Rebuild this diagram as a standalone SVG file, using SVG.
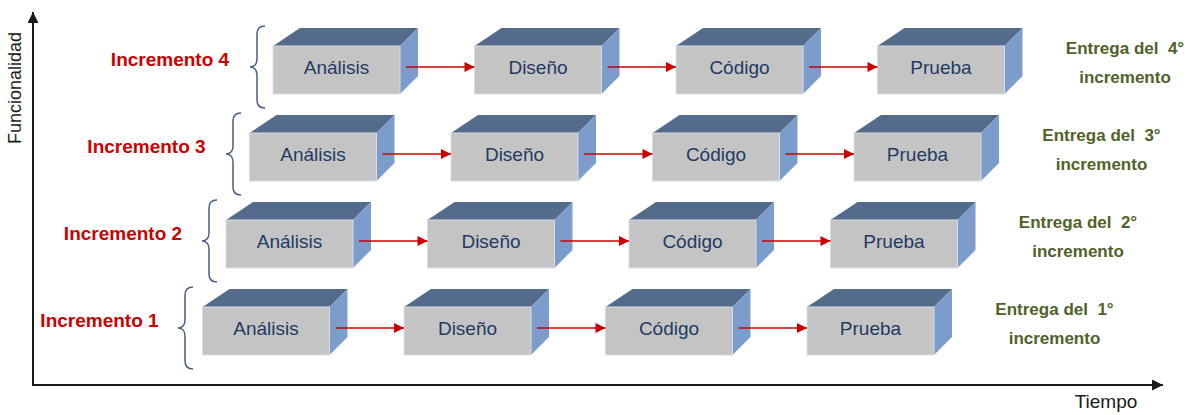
<svg xmlns="http://www.w3.org/2000/svg" width="1197" height="415" viewBox="0 0 1197 415">
<style>
.front{fill:#C4C4C4;stroke:#DADDE2;stroke-width:1}
.top{fill:#546B8C}
.side{fill:#7C9DCB}
.bl{font-family:"Liberation Sans",Arial,sans-serif;font-size:19px;fill:#1F3B63;text-anchor:middle}
.inc{font-family:"Liberation Sans",Arial,sans-serif;font-size:19px;font-weight:bold;fill:#CC0000;text-anchor:middle}
.ent{font-family:"Liberation Sans",Arial,sans-serif;font-size:17px;font-weight:bold;fill:#4F6228;text-anchor:middle;white-space:pre}
.ax{font-family:"Liberation Sans",Arial,sans-serif;font-size:18px;fill:#1a1a1a}
.brace{fill:none;stroke:#4A5E80;stroke-width:1.5}
.arr{stroke:#CC0000;stroke-width:1.5;fill:none;marker-end:url(#ah)}
.axis{stroke:#1a1a1a;stroke-width:2;fill:none}
</style>
<defs>
<marker id="ah" viewBox="0 0 10 10" refX="10" refY="5" markerWidth="11" markerHeight="10" markerUnits="userSpaceOnUse" orient="auto">
<path d="M0,0 L10,5 L0,10 z" fill="#CC0000"/>
</marker>
<marker id="axh" viewBox="0 0 10 10" refX="10" refY="5" markerWidth="11" markerHeight="11" markerUnits="userSpaceOnUse" orient="auto">
<path d="M0,0 L10,5 L0,10 z" fill="#1a1a1a"/>
</marker>
<g id="cube">
<polygon class="top" points="0,0 27,-18 145,-18 127,0"/>
<polygon class="side" points="127,0 145,-18 145,30 127,48"/>
<rect class="front" x="0" y="0" width="127" height="48"/>
</g>
<path id="br" class="brace" d="M15,-41 C9,-41 7,-38 7,-33 L7,-8 C7,-3 4,0 0,0 C4,0 7,3 7,8 L7,33 C7,38 9,41 15,41"/>
</defs>
<rect width="1197" height="415" fill="#ffffff"/>

<g id="axes">
<line class="axis" x1="33" y1="385" x2="33" y2="12" marker-end="url(#axh)"/>
<line class="axis" x1="32" y1="385" x2="1163" y2="385" marker-end="url(#axh)"/>
<text class="ax" transform="translate(21,88) rotate(-90)" text-anchor="middle">Funcionalidad</text>
<text class="ax" x="1106" y="408" text-anchor="middle" style="font-size:19px">Tiempo</text>
</g>

<g id="labels">
<text class="inc" x="170" y="66">Incremento 4</text>
<text class="inc" x="146.5" y="153">Incremento 3</text>
<text class="inc" x="123" y="240">Incremento 2</text>
<text class="inc" x="99.5" y="327">Incremento 1</text>
<use href="#br" transform="translate(250,67)"/>
<use href="#br" transform="translate(226,154)"/>
<use href="#br" transform="translate(202,241)"/>
<use href="#br" transform="translate(178,328)"/>
</g>

<g id="deliveries">
<text class="ent" x="1125" y="54">Entrega del  4°</text>
<text class="ent" x="1125" y="83">incremento</text>
<text class="ent" x="1101.5" y="141">Entrega del  3°</text>
<text class="ent" x="1101.5" y="170">incremento</text>
<text class="ent" x="1078" y="228">Entrega del  2°</text>
<text class="ent" x="1078" y="257">incremento</text>
<text class="ent" x="1054.5" y="315">Entrega del  1°</text>
<text class="ent" x="1054.5" y="344">incremento</text>
</g>

<g id="r4-analisis" transform="translate(273,46)"><use href="#cube"/><text class="bl" x="63.5" y="28">Análisis</text></g>
<g id="r4-diseno" transform="translate(474.5,46)"><use href="#cube"/><text class="bl" x="63.5" y="28">Diseño</text></g>
<g id="r4-codigo" transform="translate(676,46)"><use href="#cube"/><text class="bl" x="63.5" y="28">Código</text></g>
<g id="r4-prueba" transform="translate(877.5,46)"><use href="#cube"/><text class="bl" x="63.5" y="28">Prueba</text></g>

<g id="r3-analisis" transform="translate(249.5,133)"><use href="#cube"/><text class="bl" x="63.5" y="28">Análisis</text></g>
<g id="r3-diseno" transform="translate(451,133)"><use href="#cube"/><text class="bl" x="63.5" y="28">Diseño</text></g>
<g id="r3-codigo" transform="translate(652.5,133)"><use href="#cube"/><text class="bl" x="63.5" y="28">Código</text></g>
<g id="r3-prueba" transform="translate(854,133)"><use href="#cube"/><text class="bl" x="63.5" y="28">Prueba</text></g>

<g id="r2-analisis" transform="translate(226,220)"><use href="#cube"/><text class="bl" x="63.5" y="28">Análisis</text></g>
<g id="r2-diseno" transform="translate(427.5,220)"><use href="#cube"/><text class="bl" x="63.5" y="28">Diseño</text></g>
<g id="r2-codigo" transform="translate(629,220)"><use href="#cube"/><text class="bl" x="63.5" y="28">Código</text></g>
<g id="r2-prueba" transform="translate(830.5,220)"><use href="#cube"/><text class="bl" x="63.5" y="28">Prueba</text></g>

<g id="r1-analisis" transform="translate(202.5,307)"><use href="#cube"/><text class="bl" x="63.5" y="28">Análisis</text></g>
<g id="r1-diseno" transform="translate(404,307)"><use href="#cube"/><text class="bl" x="63.5" y="28">Diseño</text></g>
<g id="r1-codigo" transform="translate(605.5,307)"><use href="#cube"/><text class="bl" x="63.5" y="28">Código</text></g>
<g id="r1-prueba" transform="translate(807,307)"><use href="#cube"/><text class="bl" x="63.5" y="28">Prueba</text></g>

<g id="connectors">
<line class="arr" x1="406" y1="67" x2="474.5" y2="67"/>
<line class="arr" x1="607.5" y1="67" x2="676" y2="67"/>
<line class="arr" x1="809" y1="67" x2="877.5" y2="67"/>
<line class="arr" x1="382.5" y1="154" x2="451" y2="154"/>
<line class="arr" x1="584" y1="154" x2="652.5" y2="154"/>
<line class="arr" x1="785.5" y1="154" x2="854" y2="154"/>
<line class="arr" x1="359" y1="241" x2="427.5" y2="241"/>
<line class="arr" x1="560.5" y1="241" x2="629" y2="241"/>
<line class="arr" x1="762" y1="241" x2="830.5" y2="241"/>
<line class="arr" x1="335.5" y1="328" x2="404" y2="328"/>
<line class="arr" x1="537" y1="328" x2="605.5" y2="328"/>
<line class="arr" x1="738.5" y1="328" x2="807" y2="328"/>
</g>
</svg>
